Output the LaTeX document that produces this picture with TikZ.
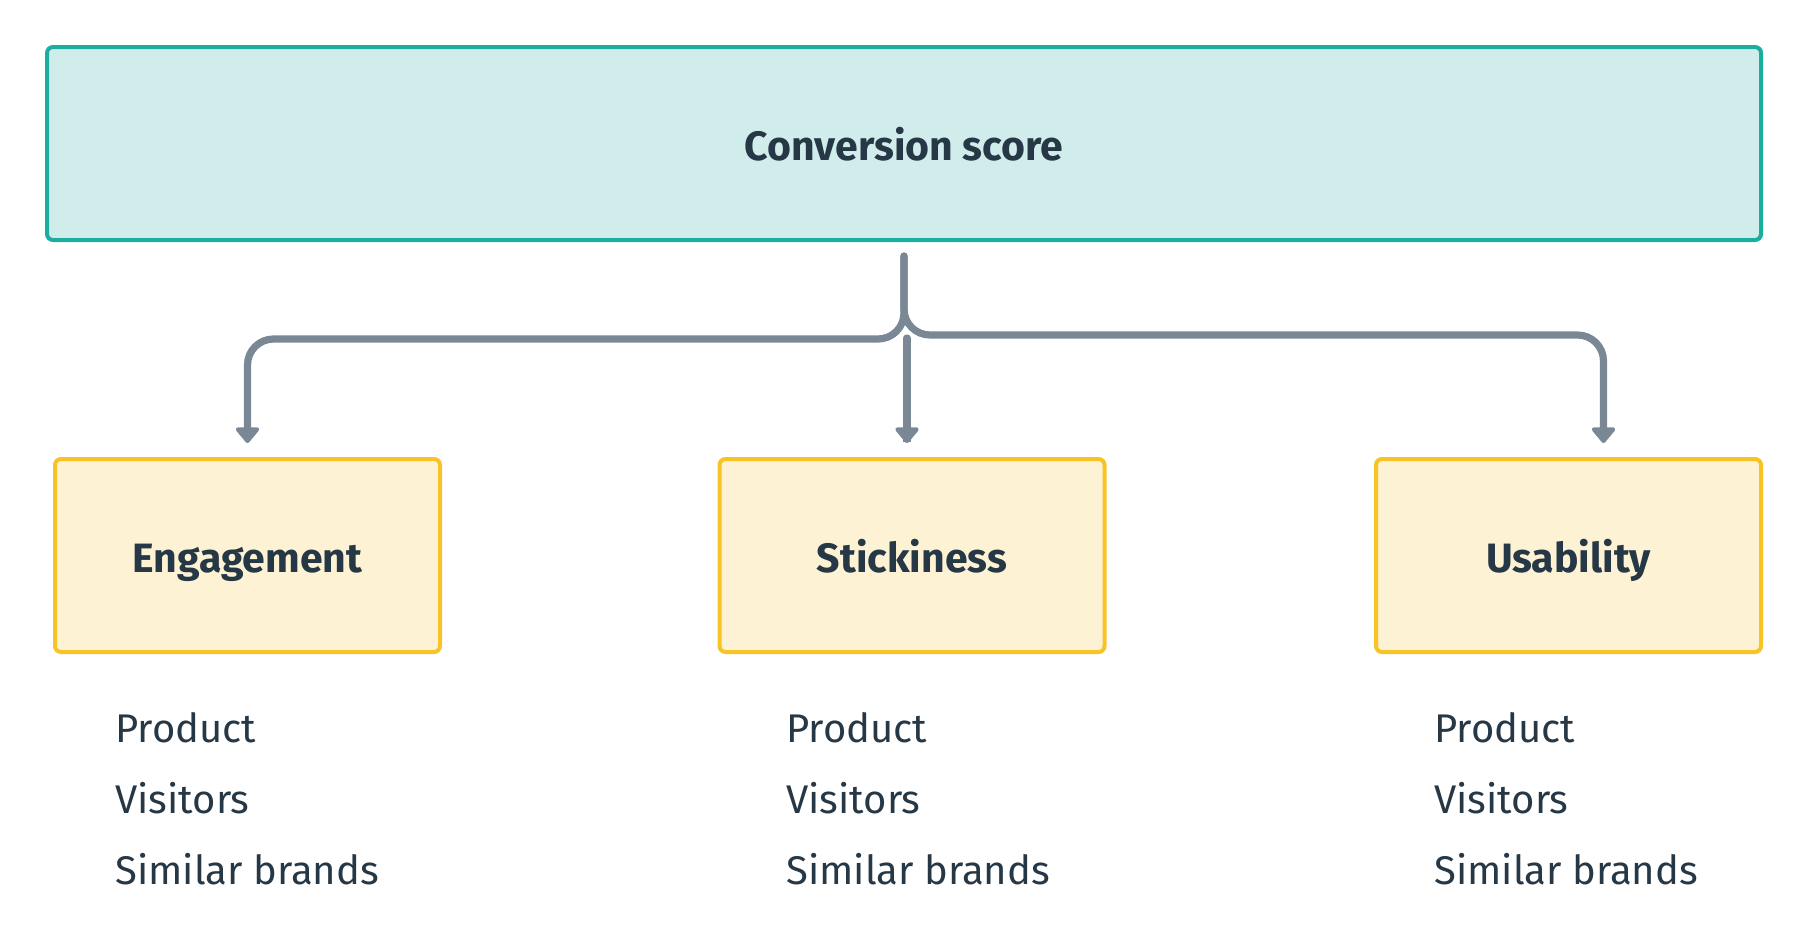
\documentclass[tikz,border=0pt]{standalone}
\usepackage{fontspec}
\setmainfont{Fira Sans}
\usetikzlibrary{arrows.meta}
\definecolor{tealfill}{HTML}{D0EDEC}
\definecolor{tealline}{HTML}{1AAE9F}
\definecolor{yelfill}{HTML}{FDF2D3}
\definecolor{yelline}{HTML}{F7C325}
\definecolor{conncol}{HTML}{7A8896}
\definecolor{txtcol}{HTML}{263746}
\begin{document}
\begin{tikzpicture}[x=0.5pt,y=-0.5pt,
  boxbase/.style={line width=2pt, rounded corners=3pt, inner sep=0pt, text=txtcol,
    font=\fontsize{20.5}{24}\selectfont\bfseries, text height=16.5pt, text depth=0pt},
  topbox/.style={boxbase, draw=tealline, fill=tealfill, minimum width=857pt, minimum height=96.5pt},
  catbox/.style={boxbase, draw=yelline, fill=yelfill, minimum width=192.5pt, minimum height=96.5pt},
  item/.style={anchor=base west, inner sep=0pt, text=txtcol, font=\fontsize{20}{24}\selectfont},
  conn/.style={draw=conncol, line width=3.6pt, line cap=round, rounded corners=13pt,
    -{Triangle[width=13.5pt,length=8.5pt,round]}, shorten >=7pt},
]
\useasboundingbox (0,0) rectangle (1808,948);

\node[topbox] (top) at (904,143.5) {Conversion score};
\node[catbox] (eng) at (247.5,555.5) {Engagement};
\node[catbox] (sti) at (912,555.5) {Stickiness};
\node[catbox] (usa) at (1568.5,555.5) {Usability};

\coordinate (ts) at ([yshift=-7pt]top.south);
\coordinate (jl) at (904,339);
\coordinate (jr) at (904,335);
\coordinate (jm) at (907,338);
\coordinate (er) at ([xshift=17.5pt]usa.north);
\coordinate (em) at ([xshift=-2.5pt]sti.north);

\draw[conn] (ts) -- (jl) -- (jl -| eng.north) -- (eng.north);
\draw[conn] (ts) -- (jr) -- (jr -| er) -- (er);
\draw[conn] (jm) -- (jm |- em) -- (em);

\node[item] (e1) at (115,742) {Product};
\node[item] (e2) at (115,813) {Visitors};
\node[item] (e3) at (115,884) {Similar brands};
\node[item] (s1) at (786,742) {Product};
\node[item] (s2) at (786,813) {Visitors};
\node[item] (s3) at (786,884) {Similar brands};
\node[item] (u1) at (1434,742) {Product};
\node[item] (u2) at (1434,813) {Visitors};
\node[item] (u3) at (1434,884) {Similar brands};
\end{tikzpicture}
\end{document}
